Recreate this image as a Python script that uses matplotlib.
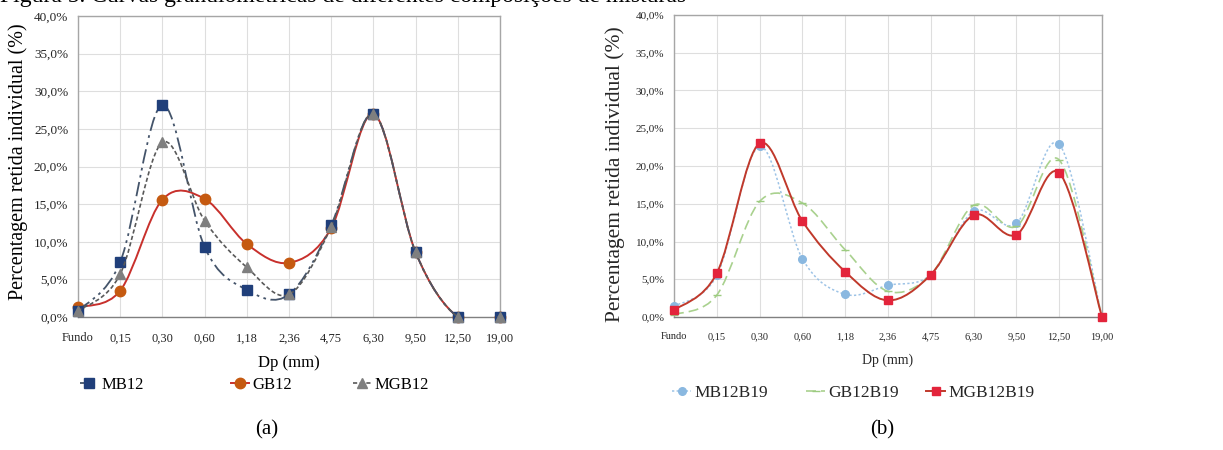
import matplotlib
matplotlib.use("Agg")
import matplotlib.pyplot as plt
from matplotlib.path import Path
from matplotlib.patches import PathPatch
from matplotlib.lines import Line2D
from matplotlib.ticker import FuncFormatter
import numpy as np

plt.rcParams['font.family'] = ['Liberation Serif', 'DejaVu Serif']

# sieve openings (categories)
sieves = ['Fundo', '0,15', '0,30', '0,60', '1,18', '2,36', '4,75', '6,30', '9,50', '12,50', '19,00']

# (a) individual retained percentage
mb12 = [0.8, 7.3, 28.2, 9.3, 3.6, 3.0, 12.2, 27.0, 8.6, 0.0, 0.0]
gb12 = [1.3, 3.5, 15.6, 15.7, 9.7, 7.2, 11.8, 27.0, 8.6, 0.0, 0.0]
mgb12 = [0.8, 5.7, 23.2, 12.8, 6.6, 3.0, 12.0, 27.0, 8.6, 0.0, 0.0]

# (b)
mb12b19 = [1.4, 5.5, 22.6, 7.7, 3.0, 4.2, 5.6, 14.0, 12.4, 22.9, 0.0]
gb12b19 = [0.3, 2.9, 15.3, 15.1, 8.9, 3.4, 5.6, 14.8, 12.0, 20.8, 0.0]
mgb12b19 = [0.9, 5.8, 23.0, 12.7, 6.0, 2.2, 5.6, 13.5, 10.9, 19.1, 0.0]


def smooth_path(ys):
    # Excel-like smoothed line (Catmull-Rom bezier)
    pts = np.column_stack([np.arange(len(ys)), ys]).astype(float)
    n = len(pts)
    verts = [pts[0]]
    codes = [Path.MOVETO]
    for i in range(n - 1):
        p0 = pts[max(i - 1, 0)]
        p1 = pts[i]
        p2 = pts[i + 1]
        p3 = pts[min(i + 2, n - 1)]
        verts += [p1 + (p2 - p0) / 6, p2 - (p3 - p1) / 6, p2]
        codes += [Path.CURVE4] * 3
    return Path(verts, codes)


def series(ax, ys, lcolor, ls, lw, marker, mcolor, ms, z):
    ax.add_patch(PathPatch(smooth_path(ys), fill=False, edgecolor=lcolor,
                           linestyle=ls, linewidth=lw, zorder=z))
    ax.plot(range(len(ys)), ys, linestyle='none', marker=marker, color=mcolor,
            markersize=ms, markeredgecolor=mcolor, clip_on=False, zorder=z + 0.5)
    return Line2D([], [], color=lcolor, linestyle=ls, linewidth=lw, marker=marker,
                  markerfacecolor=mcolor, markeredgecolor=mcolor, markersize=ms)


def style(ax, xsize, ysize):
    ax.set_xlim(0, len(sieves) - 1)
    ax.set_ylim(0, 40)
    ax.set_xticks(range(len(sieves)))
    ax.set_xticklabels(sieves)
    ax.set_yticks(np.arange(0, 41, 5))
    ax.yaxis.set_major_formatter(FuncFormatter(lambda v, p: f'{v:.1f}%'.replace('.', ',')))
    ax.grid(True, color='#DEDEDE', linewidth=0.8, zorder=0)
    ax.set_axisbelow(True)
    ax.tick_params(length=0, colors='#262626')
    ax.tick_params(axis='x', labelsize=xsize, pad=11)
    ax.tick_params(axis='y', labelsize=ysize, pad=7)
    for s in ax.spines.values():
        s.set_color('#A6A6A6')
        s.set_linewidth(1.0)
    ax.spines['bottom'].set_color('#808080')


W, H = 1223, 450
fig = plt.figure(figsize=(W / 100, H / 100), dpi=100)

fig.text(0.0, 1 - 2 / H, 'Figura 5. Curvas granulométricas de diferentes composições de misturas',
         fontsize=17, va='baseline', ha='left')

# ---- (a)
ax1 = fig.add_axes([78 / W, 1 - 317 / H, 422 / W, 301 / H])
style(ax1, 9, 9.5)
h1 = series(ax1, mb12, '#44546A', (0, (8, 2.5, 1.5, 2.5, 1.5, 2.5)), 1.3, 's', '#203F7A', 7, 5)
h3 = series(ax1, mgb12, '#595959', (0, (2.5, 1.5)), 1.2, '^', '#7F7F7F', 7.5, 6)
h2 = series(ax1, gb12, '#C8302C', '-', 1.4, 'o', '#C55A11', 7.5, 4)
ax1.set_xlabel('Dp (mm)', fontsize=12, labelpad=8)
fig.text(18 / W, 1 - 162 / H, 'Percentagem retida individual (%)', rotation=90,
         fontsize=14.5, ha='center', va='center')

for h, lab, x in [(h1, 'MB12', 80), (h2, 'GB12', 231), (h3, 'MGB12', 353)]:
    fig.legend([h], [lab], loc='center left', bbox_to_anchor=(x / W, 1 - 385 / H),
               frameon=False, fontsize=12, handlelength=1.1, handletextpad=0.2,
               borderpad=0, borderaxespad=0)
fig.text(267 / W, 1 - 430 / H, '(a)', fontsize=15, ha='center', va='center')

# ---- (b)
ax2 = fig.add_axes([674 / W, 1 - 317 / H, 428 / W, 302 / H])
style(ax2, 7.5, 8)
g1 = series(ax2, mb12b19, '#9DC3E6', (0, (1.5, 1.5)), 1.1, 'o', '#8AB8E0', 5.5, 4)
g2 = series(ax2, gb12b19, '#A9D18E', (0, (6, 3)), 1.2, '_', '#9CCB80', 6, 5)
g3 = series(ax2, mgb12b19, '#C0392B', '-', 1.4, 's', '#E3243B', 5.5, 6)
ax2.set_xlabel('Dp (mm)', fontsize=10, labelpad=9, color='#262626')
fig.text(615 / W, 1 - 174 / H, 'Percentagem retida individual (%)', rotation=90,
         fontsize=15.5, ha='center', va='center', color='#262626')

for h, lab, x in [(g1, 'MB12B19', 672), (g2, 'GB12B19', 806), (g3, 'MGB12B19', 926)]:
    fig.legend([h], [lab], loc='center left', bbox_to_anchor=(x / W, 1 - 393 / H),
               frameon=False, fontsize=12.5, handlelength=1.1, handletextpad=0.2,
               borderpad=0, borderaxespad=0, labelcolor='#262626')
fig.text(882 / W, 1 - 430 / H, '(b)', fontsize=15, ha='center', va='center')

fig.savefig('out.png', dpi=100)
